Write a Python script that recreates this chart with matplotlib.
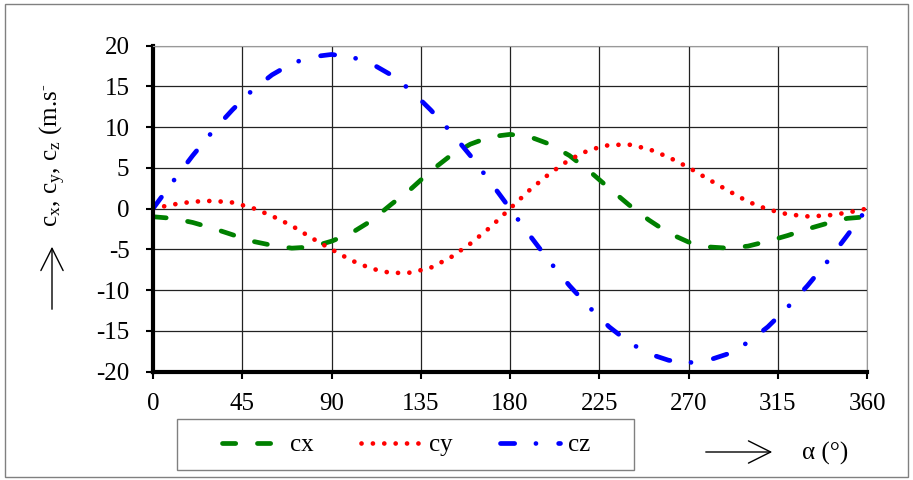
import matplotlib
matplotlib.use('Agg')
import matplotlib.pyplot as plt
from matplotlib.patches import Rectangle

plt.rcParams['font.family'] = ['Liberation Serif', 'DejaVu Serif']
plt.rcParams['mathtext.default'] = 'regular'
plt.rcParams['axes.unicode_minus'] = False

# angle of rotation (deg) and velocity components
alpha = [0, 10, 20, 30, 40, 50, 60, 70, 80, 90, 100, 110, 120, 130, 140, 150, 160, 170, 180,
         190, 200, 210, 220, 230, 240, 250, 260, 270, 280, 290, 300, 310, 320, 330, 340, 350, 360]
cx = [-1.0, -1.2, -1.7, -2.4, -3.2, -4.0, -4.5, -4.85, -4.7, -4.0, -3.0, -1.5, 0.5, 2.4, 4.6, 6.5, 7.9, 8.8, 9.1,
      8.8, 7.9, 6.5, 4.6, 2.5, 0.45, -1.4, -3.0, -4.1, -4.7, -4.85, -4.6, -4.0, -3.3, -2.5, -1.8, -1.2, -1.0]
cy = [0, 0.5, 0.85, 0.95, 0.75, 0.1, -0.9, -2.1, -3.6, -5.0, -6.35, -7.35, -7.9, -7.85, -7.25, -6.0, -4.3, -2.3, 0,
      2.3, 4.3, 6.0, 7.2, 7.8, 7.85, 7.3, 6.3, 5.05, 3.6, 2.2, 0.85, -0.1, -0.7, -0.95, -0.85, -0.5, 0]
cz = [0, 3.3, 6.5, 9.45, 12.1, 14.5, 16.4, 17.8, 18.6, 18.9, 18.6, 17.8, 16.4, 14.5, 12.1, 9.45, 6.5, 3.3, 0,
      -3.3, -6.5, -9.45, -12.1, -14.5, -16.4, -17.8, -18.6, -18.9, -18.6, -17.8, -16.4, -14.5, -12.1, -9.45, -6.5, -3.3, 0]

x_ticks = [0, 45, 90, 135, 180, 225, 270, 315, 360]
y_ticks = [-20, -15, -10, -5, 0, 5, 10, 15, 20]

W, H = 913, 480
fig = plt.figure(figsize=(W / 100, H / 100), dpi=100)

# outer frame of the chart
fig.patches.append(Rectangle((5 / W, 3 / H), 903 / W, 473 / H, transform=fig.transFigure,
                             fill=False, edgecolor='#808080', lw=1.0))

left, right, top, bottom = 153, 867, 45.5, 371.7
ax = fig.add_axes([left / W, 1 - bottom / H, (right - left) / W, (bottom - top) / H])

lw = 3.4
l1, = ax.plot(alpha, cx, color='#008000', lw=lw, dashes=(2.8, 4.6), dash_capstyle='round', label='cx')
l2, = ax.plot(alpha, cy, color='#ff0000', lw=lw, dashes=(0.01, 2.4), dash_capstyle='round', label='cy')
l3, = ax.plot(alpha, cz, color='#0000ff', lw=lw, dashes=(3.0, 4.5, 0.01, 4.8), dash_capstyle='round', label='cz')

ax.set_xlim(0, 360)
ax.set_ylim(-20, 20)
ax.set_xticks(x_ticks)
ax.set_yticks(y_ticks)
ax.grid(True, color='#222222', lw=0.9)
ax.set_axisbelow(True)

for side in ('top', 'right'):
    ax.spines[side].set_color('#999999')
    ax.spines[side].set_linestyle((0, (1, 1)))
    ax.spines[side].set_linewidth(0.8)
for side in ('left', 'bottom'):
    ax.spines[side].set_color('black')
    ax.spines[side].set_linewidth(3.0)

ax.tick_params(axis='both', direction='out', length=5, width=1.5, labelsize=18, color='black')
ax.tick_params(axis='y', pad=12)
ax.tick_params(axis='x', pad=10)

# axis titles with their arrows
fig.text(53 / W, 1 - 227 / H, 'c$_x$, c$_y$, c$_z$ (m.s$^{\u2010}$', rotation=90,
         ha='center', va='bottom', fontsize=18)
arrow = dict(arrowstyle='->', lw=1.0, mutation_scale=40)
ax.annotate('', xy=(52, H - 244), xytext=(52, H - 312), xycoords='figure pixels',
            textcoords='figure pixels', arrowprops=arrow)
ax.annotate('', xy=(775, H - 452), xytext=(703, H - 452), xycoords='figure pixels',
            textcoords='figure pixels', arrowprops=arrow)
fig.text(802 / W, 1 - 453 / H, 'α (°)', ha='left', va='center', fontsize=18)

# legend box
fig.patches.append(Rectangle((177 / W, 1 - 470 / H), (634 - 177) / W, 51 / H, transform=fig.transFigure,
                             fill=False, edgecolor='#808080', lw=1.0))
ax.legend(handles=[l1, l2, l3], loc='center', ncol=3,
          bbox_to_anchor=(406 / W, 1 - 445 / H), bbox_transform=fig.transFigure,
          frameon=False, fontsize=18, handlelength=2.4, handletextpad=0.32,
          columnspacing=1.9, borderaxespad=0, borderpad=0)

fig.savefig('out.png', dpi=100)
